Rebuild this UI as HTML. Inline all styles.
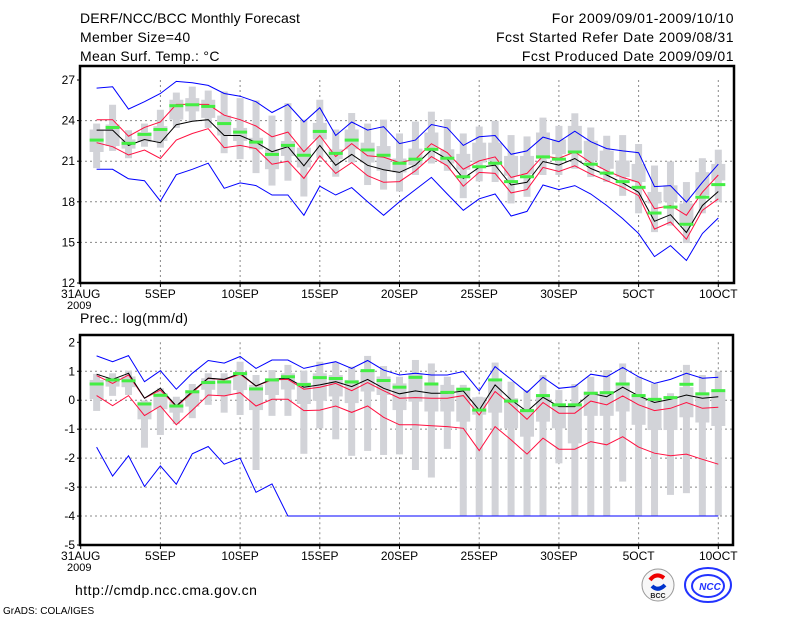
<!DOCTYPE html>
<html><head><meta charset="utf-8"><style>
html,body{margin:0;padding:0;background:#fff;}
svg{display:block;font-family:"Liberation Sans",sans-serif;}
</style></head><body>
<svg id="chart" width="800" height="618" viewBox="0 0 800 618" xmlns="http://www.w3.org/2000/svg">
<text x="80" y="23" font-size="14" letter-spacing="0.1">DERF/NCC/BCC Monthly Forecast</text>
<text x="80" y="42" font-size="14" letter-spacing="0.3">Member Size=40</text>
<text x="80" y="61" font-size="14" letter-spacing="0.3">Mean Surf. Temp.: °C</text>
<text x="734" y="23" font-size="14" letter-spacing="0.5" text-anchor="end">For 2009/09/01-2009/10/10</text>
<text x="734" y="42" font-size="14" letter-spacing="0.5" text-anchor="end">Fcst Started Refer Date 2009/08/31</text>
<text x="734" y="61" font-size="14" letter-spacing="0.5" text-anchor="end">Fcst Produced Date 2009/09/01</text>
<text x="80" y="323" font-size="14" letter-spacing="0.3">Prec.: log(mm/d)</text>
<text x="75" y="595" font-size="14" letter-spacing="0.5">http://cmdp.ncc.cma.gov.cn</text>
<text x="3" y="614" font-size="10">GrADS: COLA/IGES</text>
<g>
<circle cx="658" cy="585" r="16" fill="#f7f7f7" stroke="#999" stroke-width="1"/>
<path d="M650 580 q6 -8 14 -2" stroke="#e00" stroke-width="4" fill="none"/>
<path d="M652 586 q6 6 13 -1" stroke="#0033cc" stroke-width="4" fill="none"/>
<text x="658" y="598" font-size="7" font-weight="bold" text-anchor="middle" fill="#222">BCC</text>
</g>
<g>
<ellipse cx="708" cy="585" rx="23" ry="17" fill="#fff" stroke="#2233ff" stroke-width="2"/>
<ellipse cx="708" cy="586" rx="16" ry="11" fill="none" stroke="#2233ff" stroke-width="2"/>
<text x="710" y="590" font-size="10" font-weight="bold" font-style="italic" text-anchor="middle" fill="#2233ff">NCC</text>
</g>
<g id="plots"></g>
</svg>
<script>
// ---- Temperature panel data (index 0 = 1SEP ... 39 = 10OCT)
const tBlueHi=[26.4,26.5,24.85,25.4,26.0,26.9,26.8,26.6,26.0,25.8,25.4,24.6,25.2,23.9,24.95,22.9,23.9,23.3,23.55,22.3,22.56,23.71,23.46,22.17,22.8,22.9,21.51,21.76,22.78,22.44,23.22,22.44,21.93,21.76,21.63,19.12,19.2,17.98,19.44,20.78];
const tRedHi=[24.07,24.07,22.85,23.5,23.9,25.2,25.2,25.2,24.4,24.07,23.6,22.8,23.15,21.7,22.9,21.35,22.3,21.4,21.3,20.9,21.15,22.29,21.63,20.41,21.02,21.32,19.8,20.1,21.39,21.22,21.68,20.9,20.29,19.8,19.44,17.49,17.73,17.0,18.71,19.98];
const tMean=[23.3,23.3,22.17,22.6,22.37,23.7,23.95,24.07,22.9,22.9,22.4,21.7,22.07,20.66,22.17,20.7,21.5,20.7,20.37,20.17,20.71,21.83,21.15,19.73,20.54,20.71,19.24,19.44,20.98,20.71,21.2,20.46,19.98,19.39,18.71,16.56,17.05,15.73,17.73,18.76];
const tRedLo=[22.37,22.07,21.46,21.83,21.2,22.56,23.05,23.4,22.0,22.17,21.93,20.78,21.0,19.73,21.4,20.1,20.9,19.93,19.44,19.49,20.29,21.34,20.66,19.15,20.17,20.1,18.66,18.9,20.54,20.24,20.66,20.05,19.56,19.07,18.46,15.98,16.51,15.24,17.37,18.22];
const tBlueLo=[20.4,20.4,19.7,19.56,18.05,20.0,20.4,20.85,19.0,19.4,19.2,18.5,18.5,17.0,19.15,18.5,19.05,18.0,17.0,18.0,18.9,19.8,18.58,17.37,18.22,18.58,16.95,17.29,19.24,18.9,19.2,18.58,17.73,16.76,15.66,13.95,14.76,13.66,15.66,16.8];
const tGreen=[22.56,23.49,22.32,22.98,23.34,25.1,25.17,25.05,23.78,23.15,22.41,21.5,22.17,21.44,23.2,21.58,22.56,21.83,21.44,20.85,21.15,21.88,21.22,19.85,20.59,20.85,19.49,19.85,21.32,21.15,21.68,20.78,20.12,19.49,19.07,17.17,17.61,16.34,18.34,19.27];
const tOutHi=[23.78,25.17,23.29,23.78,24.8,26.07,26.51,26.22,26.15,25.66,25.49,24.37,25.29,24.07,25.54,23.34,24.56,23.78,24.07,23.05,23.93,24.66,24.1,23.05,23.56,23.98,22.93,22.83,24.22,23.61,24.54,23.49,22.88,22.93,22.27,20.68,20.98,19.46,21.22,21.85];
const tOutLo=[20.49,21.76,21.22,22.07,22.0,23.46,23.95,23.46,21.59,21.15,20.12,19.2,19.56,18.39,21.2,19.85,20.9,19.24,18.9,18.76,19.98,20.83,20.29,18.27,19.51,19.46,17.88,18.37,19.98,19.98,20.44,19.83,19.46,18.44,17.15,15.76,16.24,14.95,17.15,17.98];
const tInHi=[23.34,23.71,22.61,23.15,23.59,25.54,25.66,25.54,24.37,23.46,22.73,21.88,22.49,22.0,23.83,21.88,23.34,22.37,22.12,21.2,21.93,23.12,21.88,21.54,22.37,22.37,21.39,21.39,23.12,22.61,23.61,22.51,21.78,21.05,20.8,18.73,19.22,17.88,20.19,20.8];
const tInLo=[21.68,22.12,21.93,22.41,22.49,24.07,24.68,24.2,22.9,22.49,21.88,20.41,21.39,20.54,22.61,21.15,21.88,20.9,20.29,20.17,20.71,22.02,20.83,20.37,20.9,21.02,19.93,20.05,21.17,21.51,21.66,21.05,20.44,19.83,19.46,17.88,18.0,16.41,18.49,19.58];
const tTicks=[12,15,18,21,24,27];
// ---- Precipitation panel data
const pBlueHi=[1.53,1.33,1.54,0.64,1.02,0.38,0.93,1.37,1.28,1.51,1.1,1.39,1.39,1.1,1.22,1.33,1.1,1.37,1.04,0.87,0.93,0.87,0.87,0.99,0.32,1.16,0.72,0.27,0.79,0.41,0.47,0.9,0.81,1.13,0.81,0.58,0.72,0.93,0.76,0.79];
const pMean=[0.9,0.72,0.93,0.07,0.41,-0.2,0.3,0.76,0.72,0.93,0.49,0.73,0.76,0.45,0.53,0.64,0.47,0.72,0.41,0.22,0.32,0.24,0.24,0.32,-0.34,0.53,0.01,-0.39,0.1,-0.22,-0.22,0.24,0.12,0.45,0.15,-0.08,0.03,0.18,0.07,0.12];
const pRedHi=[0.85,0.58,0.87,0.07,0.35,-0.22,0.26,0.76,0.7,0.9,0.49,0.7,0.72,0.38,0.45,0.58,0.33,0.61,0.33,0.07,0.09,0.07,0.07,0.16,-0.51,0.3,-0.16,-0.66,-0.08,-0.45,-0.45,-0.03,-0.16,0.15,-0.16,-0.36,-0.28,-0.08,-0.28,-0.24];
const pRedLo=[0.16,-0.19,0.16,-0.53,-0.2,-0.85,-0.34,0.18,0.15,0.26,-0.2,0.03,0.03,-0.36,-0.34,-0.2,-0.42,-0.2,-0.59,-0.85,-0.85,-0.88,-0.91,-0.97,-1.74,-0.91,-1.37,-1.86,-1.31,-1.69,-1.69,-1.43,-1.54,-1.26,-1.62,-1.83,-1.92,-1.86,-2.04,-2.21];
const pBlueLo=[-1.62,-2.62,-1.92,-2.98,-2.27,-2.9,-1.85,-1.6,-2.21,-2.0,-3.18,-2.89,-4,-4,-4,-4,-4,-4,-4,-4,-4,-4,-4,-4,-4,-4,-4,-4,-4,-4,-4,-4,-4,-4,-4,-4,-4,-4,-4,-4];
const pGreen=[0.56,0.7,0.67,-0.13,0.17,-0.2,0.29,0.61,0.63,0.92,0.39,0.7,0.81,0.54,0.78,0.75,0.63,1.02,0.68,0.45,0.79,0.56,0.27,0.38,-0.34,0.7,-0.03,-0.36,0.16,-0.16,-0.16,0.24,0.26,0.56,0.16,0.03,0.09,0.55,0.22,0.33];
const pOutHi=[0.91,0.93,1.02,-0.01,0.41,0.12,0.56,0.93,0.93,1.33,0.87,1.04,1.22,1.02,1.33,1.3,1.16,1.53,1.18,0.81,1.39,1.27,0.81,0.53,0.12,1.3,0.64,0.35,0.87,0.35,0.56,0.81,1.04,1.27,0.81,0.58,0.24,1.22,0.87,0.99];
const pOutLo=[-0.37,0.15,0.18,-1.64,-1.2,-0.82,-0.62,-0.16,-0.43,-0.51,-2.41,-0.54,-0.54,-1.85,-0.97,-1.35,-1.92,-1.75,-1.89,-1.87,-2.41,-2.67,-1.68,-3.98,-3.98,-3.98,-3.98,-3.98,-3.98,-2.18,-3.98,-3.98,-3.98,-2.81,-3.98,-3.98,-3.27,-3.21,-3.98,-3.98];
const pInHi=[0.7,0.76,0.82,-0.05,0.24,-0.05,0.35,0.76,0.7,0.95,0.53,0.76,0.93,0.61,0.93,0.87,0.7,1.07,0.82,0.58,0.93,0.59,0.53,0.38,0.1,0.64,0.07,-0.3,0.15,-0.11,-0.16,0.3,0.3,0.59,0.18,0.07,0.07,0.45,0.24,0.3];
const pInLo=[0.04,0.47,0.45,-0.66,-0.31,-0.43,-0.22,0.36,0.18,0.35,-0.34,0.18,0.37,-0.13,-0.02,0.13,-0.1,0.3,0.18,-0.34,-0.05,-0.39,-0.39,-0.74,-0.5,-0.43,-0.97,-1.26,-0.74,-0.97,-1.49,-0.54,-0.54,-0.39,-0.85,-1.03,-1.03,-0.59,-0.77,-0.89];
const pTicks=[-5,-4,-3,-2,-1,0,1,2];
// ---- x axis
const xTickDays=[0,5,10,15,20,25,30,35,40];
const xTickLabels=["31AUG","5SEP","10SEP","15SEP","20SEP","25SEP","30SEP","5OCT","10OCT"];

const NS="http://www.w3.org/2000/svg";
const root=document.getElementById('plots');
function mk(tag,attrs,parent){const e=document.createElementNS(NS,tag);for(const k in attrs)e.setAttribute(k,attrs[k]);(parent||root).appendChild(e);return e;}
const X0=80.7,X1=718.3;
function xScale(day){return X0+(X1-X0)*day/40;}

function drawPanel(p){
  const g=mk('g',{});
  
  
  const yScale=v=>p.top+(p.vmax-v)*(p.bottom-p.top)/(p.vmax-p.vmin);
  p.ticks.forEach(t=>{
    if(t>p.vmin&&t<p.vmax){const gl=mk('line',{x1:80,x2:p.right,y1:yScale(t),y2:yScale(t),stroke:'#888','stroke-width':1,'stroke-dasharray':'2,3'},g);
    
    }
    const tl=mk('text',{x:75,y:yScale(t)+4,'font-size':12,'text-anchor':'end'},g);tl.textContent=t;
    
    
    mk('line',{x1:77,x2:80,y1:yScale(t),y2:yScale(t),stroke:'#000'},g);
  });
  xTickDays.forEach((d,i)=>{
    const x=xScale(d);
    if(d>0){const gl=mk('line',{x1:x,x2:x,y1:p.top,y2:p.bottom,stroke:'#888','stroke-width':1,'stroke-dasharray':'2,3'},g);
    
    }
    mk('line',{x1:x,x2:x,y1:p.bottom,y2:p.bottom+4,stroke:'#000'},g);
    const tl=mk('text',{x:x,y:p.bottom+15,'font-size':12,'text-anchor':'middle'},g);tl.textContent=xTickLabels[i];
    
    
  });
  const yr=mk('text',{x:67,y:p.bottom+26,'font-size':11},g);yr.textContent='2009';
  
  
  for(let i=0;i<40;i++){
    const x=xScale(i+1);
    const ob=mk('rect',{x:x-3.5,y:yScale(p.outHi[i]),width:7,height:yScale(p.outLo[i])-yScale(p.outHi[i]),fill:'#d2d3d8'},g);
    
    
    const ib=mk('rect',{x:x-7,y:yScale(p.inHi[i]),width:14,height:yScale(p.inLo[i])-yScale(p.inHi[i]),fill:'#d2d3d8'},g);
    
    
  }
  const series=[[p.blueHi,'#0000ff','upper-bound-line'],[p.blueLo,'#0000ff','lower-bound-line'],[p.redHi,'#ff1040','upper-sd-line'],[p.redLo,'#ff1040','lower-sd-line'],[p.mean,'#000','ensemble-mean-line']];
  series.forEach(s=>{
    const pts=s[0].map((v,i)=>xScale(i+1).toFixed(1)+','+yScale(v).toFixed(1)).join(' ');
    const pl=mk('polyline',{points:pts,fill:'none',stroke:s[1],'stroke-width':1},g);
    
    
  });
  for(let i=0;i<40;i++){
    const x=xScale(i+1);
    const gm=mk('rect',{x:x-7,y:yScale(p.green[i])-1.5,width:14,height:3,fill:'#44ee44'},g);
    
    
  }
  const fr=mk('rect',{x:80,y:p.top0,width:p.right-80,height:p.bottom-p.top0,fill:'none',stroke:'#000','stroke-width':2.5},g);
  
  
}
drawPanel({name:'temperature-panel',top:80,bottom:283,top0:66,right:734,vmin:12,vmax:27,ticks:tTicks,
  blueHi:tBlueHi,blueLo:tBlueLo,redHi:tRedHi,redLo:tRedLo,mean:tMean,green:tGreen,outHi:tOutHi,outLo:tOutLo,inHi:tInHi,inLo:tInLo});
drawPanel({name:'precipitation-panel',top:342.3,bottom:545,top0:335,right:733,vmin:-5,vmax:2,ticks:pTicks,
  blueHi:pBlueHi,blueLo:pBlueLo,redHi:pRedHi,redLo:pRedLo,mean:pMean,green:pGreen,outHi:pOutHi,outLo:pOutLo,inHi:pInHi,inLo:pInLo});
</script>
</body></html>
